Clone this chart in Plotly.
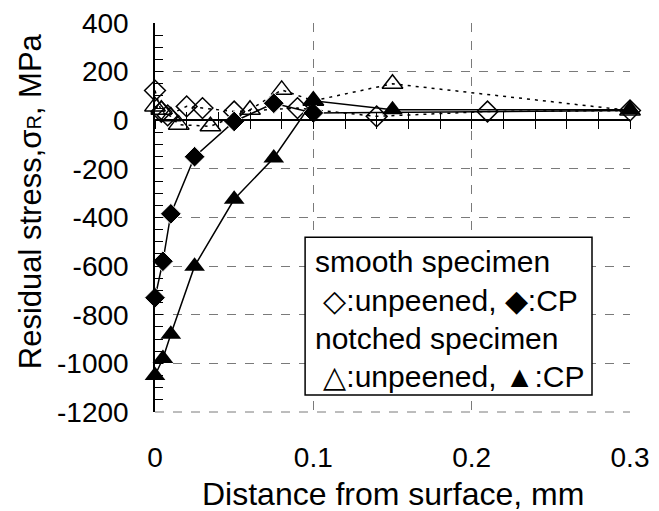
import plotly.graph_objects as go

# distance from surface (mm) and residual stress (MPa)
smooth_unpeened_x = [0, 0.004, 0.008, 0.02, 0.03, 0.05, 0.09, 0.14, 0.21, 0.3]
smooth_unpeened_y = [122, 35, 20, 57, 50, 36, 50, 16, 36, 40]

notched_unpeened_x = [0, 0.004, 0.01, 0.015, 0.035, 0.06, 0.08, 0.1, 0.15, 0.3]
notched_unpeened_y = [57, 43, 16, -18, -25, 43, 125, 80, 150, 40]

smooth_cp_x = [0, 0.005, 0.01, 0.025, 0.05, 0.075, 0.1, 0.3]
smooth_cp_y = [-730, -580, -385, -150, -5, 70, 30, 40]

notched_cp_x = [0, 0.005, 0.01, 0.025, 0.05, 0.075, 0.1, 0.15, 0.3]
notched_cp_y = [-1050, -980, -880, -600, -325, -155, 80, 43, 43]

x_ticks = [0, 0.1, 0.2, 0.3]
x_tick_labels = ["0", "0.1", "0.2", "0.3"]
y_ticks = [400, 200, 0, -200, -400, -600, -800, -1000, -1200]
y_tick_labels = ["400", "200", "0", "-200", "-400", "-600", "-800", "-1000", "-1200"]

legend_lines = [
    "smooth specimen",
    " \u25c7:unpeened, \u25c6:CP",
    "notched specimen",
    " \u25b3:unpeened, \u25b2:CP",
]

FONT = "Liberation Sans, Arial, sans-serif"

fig = go.Figure()

fig.add_trace(
    go.Scatter(
        x=smooth_unpeened_x,
        y=smooth_unpeened_y,
        mode="lines+markers",
        line=dict(color="black", width=1.5, dash="3px,5px"),
        marker=dict(symbol="diamond-open", size=16, color="black", line=dict(width=1.5)),
        cliponaxis=False,
        showlegend=False,
    )
)
fig.add_trace(
    go.Scatter(
        x=notched_unpeened_x,
        y=notched_unpeened_y,
        mode="lines+markers",
        line=dict(color="black", width=1.5, dash="3px,5px"),
        marker=dict(symbol="triangle-up-open", size=18, color="black", line=dict(width=1.5)),
        cliponaxis=False,
        showlegend=False,
    )
)
# last diamond sits hidden behind the triangle at 0.3 mm
fig.add_trace(
    go.Scatter(
        x=smooth_cp_x,
        y=smooth_cp_y,
        mode="lines+markers",
        line=dict(color="black", width=1.5),
        marker=dict(
            symbol="diamond",
            size=[16] * (len(smooth_cp_x) - 1) + [0],
            color="black",
            opacity=1,
        ),
        cliponaxis=False,
        showlegend=False,
    )
)
fig.add_trace(
    go.Scatter(
        x=notched_cp_x,
        y=notched_cp_y,
        mode="lines+markers",
        line=dict(color="black", width=1.5),
        marker=dict(symbol="triangle-up", size=18, color="black"),
        cliponaxis=False,
        showlegend=False,
    )
)

# x axis line crossing at zero stress, ticks on both sides
for ax in ["x2", "x3"]:
    fig.add_trace(
        go.Scatter(x=[0], y=[0], xaxis=ax, mode="markers",
                   marker=dict(opacity=0), hoverinfo="skip", showlegend=False)
    )

axis_common = dict(
    range=[0, 0.3],
    overlaying="x",
    anchor="free",
    position=0.75,
    side="bottom",
    showgrid=False,
    showticklabels=False,
    dtick=0.02,
    ticklen=8,
    tickwidth=1,
    tickcolor="black",
    linecolor="black",
    linewidth=1.5,
    showline=True,
    zeroline=False,
    automargin=False,
)

# page body has an 8px margin, so the figure is 8px smaller and shifted
fig.update_layout(
    width=651,
    height=503,
    margin=dict(l=147, r=29, t=15, b=99),
    plot_bgcolor="white",
    paper_bgcolor="white",
    font=dict(family=FONT, size=28, color="black"),
    xaxis=dict(
        range=[0, 0.3],
        tickvals=x_ticks,
        ticktext=x_tick_labels,
        showgrid=True,
        gridcolor="#7a7a7a",
        griddash="dash",
        gridwidth=1,
        showline=False,
        zeroline=False,
        ticks="",
        ticklabelstandoff=26,
        ticklabeloverflow="allow",
        automargin=False,
    ),
    xaxis2=dict(ticks="outside", **axis_common),
    xaxis3=dict(ticks="inside", **axis_common),
    yaxis=dict(
        range=[-1200, 400],
        tickvals=y_ticks,
        ticktext=y_tick_labels,
        showgrid=True,
        gridcolor="#7a7a7a",
        griddash="dash",
        gridwidth=1,
        showline=True,
        linecolor="black",
        linewidth=1.5,
        zeroline=False,
        ticks="inside",
        ticklen=8,
        tickcolor="black",
        ticklabelstandoff=19,
        ticklabeloverflow="allow",
        automargin=False,
        minor=dict(dtick=50, ticks="inside", ticklen=8, tickcolor="black", showgrid=False),
    ),
)

# bottom frame line (dashed like the grid)
fig.add_shape(
    type="line", xref="paper", yref="paper", x0=0, x1=1, y0=0, y1=0,
    line=dict(color="#7a7a7a", width=1, dash="dash"), layer="below",
)

# axis titles
fig.add_annotation(
    text="Residual stress,\u03c3<span style='font-size:20px'>R</span>, MPa",
    xref="paper", yref="paper", x=-0.263, y=0.542, textangle=-90,
    xanchor="center", yanchor="middle", showarrow=False,
    font=dict(family=FONT, size=31, color="black"),
)
fig.add_annotation(
    text="Distance from surface, mm",
    xref="paper", yref="paper", x=0.5, y=-0.211,
    xanchor="center", yanchor="middle", showarrow=False,
    font=dict(family=FONT, size=32, color="black"),
)

# legend box drawn as text block
fig.add_shape(
    type="rect", xref="paper", yref="paper",
    x0=0.316, x1=0.92, y0=0.044, y1=0.449,
    line=dict(color="black", width=1.5), fillcolor="white", layer="above",
)
for i, txt in enumerate(legend_lines):
    fig.add_annotation(
        text=txt, xref="paper", yref="paper",
        x=0.333, y=0.386 - i * 0.0985,
        xanchor="left", yanchor="middle", showarrow=False,
        font=dict(family=FONT, size=30, color="black"),
    )

fig.write_html("out.html")
